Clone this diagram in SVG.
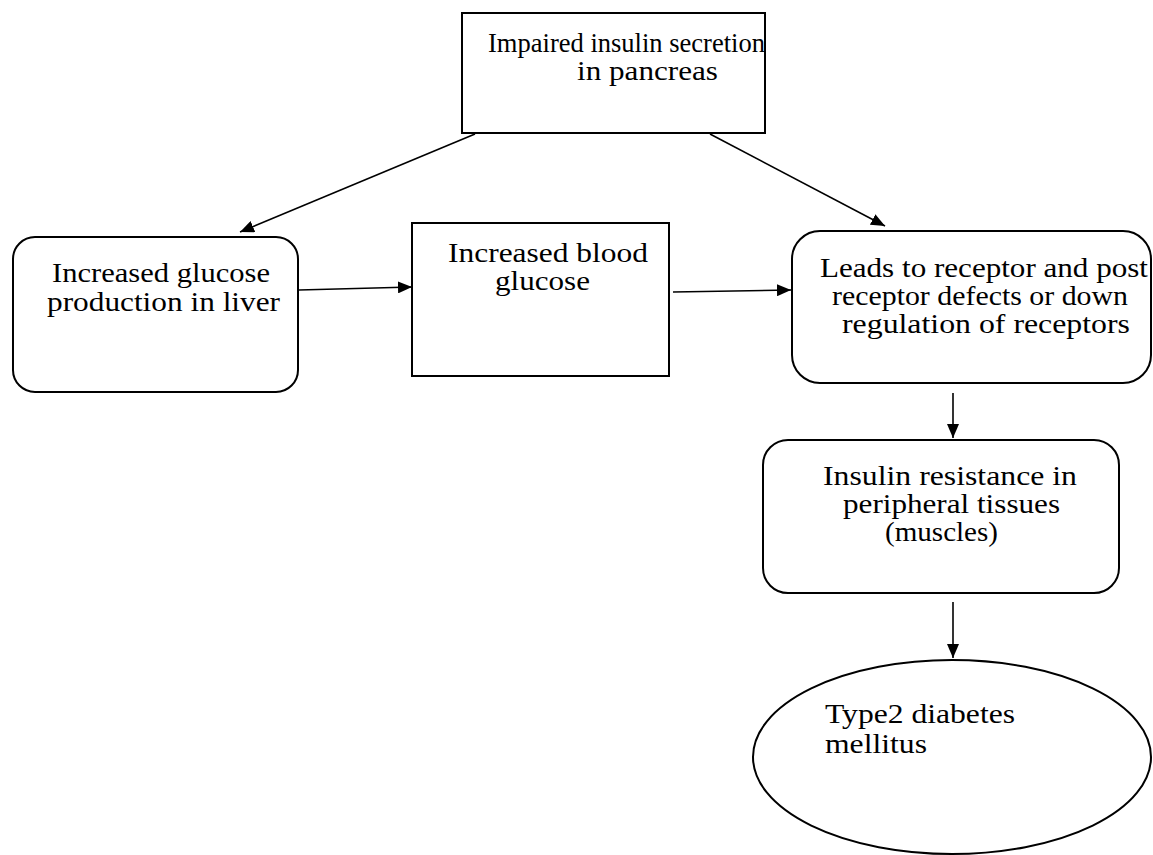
<svg xmlns="http://www.w3.org/2000/svg" width="1153" height="855" viewBox="0 0 1153 855">
<defs>
<marker id="arr" markerWidth="14" markerHeight="12" refX="14" refY="6" orient="auto" markerUnits="userSpaceOnUse">
<path d="M0,0 L14,6 L0,12 Z" fill="#000"/>
</marker>
<style>
.box{fill:#fff;stroke:#000;stroke-width:2}
.t{font-family:"Liberation Serif","Times New Roman",serif;font-size:28px;fill:#000}
.c{stroke:#000;stroke-width:1.6;fill:none;marker-end:url(#arr)}
</style>
</defs>
<rect width="1153" height="855" fill="#fff"/>
<g id="connectors">
<line class="c" x1="475" y1="134" x2="240" y2="232"/>
<line class="c" x1="710" y1="134" x2="885" y2="226"/>
<line class="c" x1="299" y1="290" x2="412" y2="287"/>
<line class="c" x1="673" y1="292" x2="791" y2="290"/>
<line class="c" x1="953" y1="393" x2="953" y2="438"/>
<line class="c" x1="953" y1="602" x2="953" y2="658"/>
</g>
<g id="n-pancreas">
<rect class="box" x="462" y="13" width="303" height="120"/>
<text class="t" x="488" y="52" textLength="277" lengthAdjust="spacingAndGlyphs">Impaired insulin secretion</text>
<text class="t" x="577" y="80" textLength="141" lengthAdjust="spacingAndGlyphs">in pancreas</text>
</g>
<g id="n-liver">
<rect class="box" x="13" y="237" width="285" height="155" rx="22" ry="22"/>
<text class="t" x="52" y="282" textLength="218" lengthAdjust="spacingAndGlyphs">Increased glucose</text>
<text class="t" x="47" y="311" textLength="233" lengthAdjust="spacingAndGlyphs">production in liver</text>
</g>
<g id="n-blood">
<rect class="box" x="412" y="223" width="257" height="153"/>
<text class="t" x="448" y="262" textLength="200" lengthAdjust="spacingAndGlyphs">Increased blood</text>
<text class="t" x="495" y="290" textLength="95" lengthAdjust="spacingAndGlyphs">glucose</text>
</g>
<g id="n-receptor">
<rect class="box" x="792" y="231" width="359" height="152" rx="28" ry="28"/>
<text class="t" x="820" y="277" textLength="328" lengthAdjust="spacingAndGlyphs">Leads to receptor and post</text>
<text class="t" x="832" y="305" textLength="296" lengthAdjust="spacingAndGlyphs">receptor defects or down</text>
<text class="t" x="842" y="333" textLength="288" lengthAdjust="spacingAndGlyphs">regulation of receptors</text>
</g>
<g id="n-resistance">
<rect class="box" x="763" y="440" width="356" height="153" rx="25" ry="25"/>
<text class="t" x="823" y="485" textLength="254" lengthAdjust="spacingAndGlyphs">Insulin resistance in</text>
<text class="t" x="843" y="513" textLength="217" lengthAdjust="spacingAndGlyphs">peripheral tissues</text>
<text class="t" x="885" y="541" textLength="113" lengthAdjust="spacingAndGlyphs">(muscles)</text>
</g>
<g id="n-diabetes">
<ellipse class="box" cx="952" cy="757" rx="199" ry="97"/>
<text class="t" x="825" y="723" textLength="190" lengthAdjust="spacingAndGlyphs">Type2 diabetes</text>
<text class="t" x="825" y="753" textLength="102" lengthAdjust="spacingAndGlyphs">mellitus</text>
</g>
</svg>
